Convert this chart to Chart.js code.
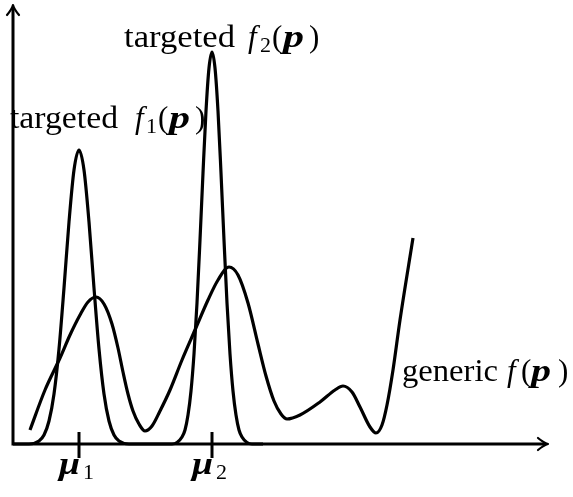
<!DOCTYPE html>
<html>
<head>
<meta charset="utf-8">
<script src="https://cdn.jsdelivr.net/npm/chart.js@4/dist/chart.umd.min.js"></script>
<style>
    body { margin: 0; background: #fff; }
    #wrap { width: 573px; height: 497px; position: relative; }
</style>
</head>
<body>
<div id="wrap"><canvas id="chart"></canvas></div>
<script>
// Values: parameter p along x, function value along y
const f1P   = [0, 16, 26, 31, 36, 41, 46, 51, 56, 61, 66, 71, 76, 81, 86, 91, 96, 101, 106, 116, 140];
const f1Val = [0, 0, 3, 9, 23, 50, 95, 156, 222, 274, 294, 274, 222, 156, 95, 50, 23, 9, 3, 0, 0];

const f2P   = [140, 159, 164, 169, 172, 175, 178, 181, 184, 187, 190, 193, 196, 199, 202, 205, 208, 211, 214, 217, 220, 223, 226, 229, 234, 239, 250];
const f2Val = [0, 0, 1.5, 7, 14, 29, 53, 90, 141, 204, 271, 333, 376, 392, 376, 333, 271, 204, 141, 90, 53, 29, 14, 7, 1.5, 0, 0];

const genP   = [17, 32, 47, 57, 67, 75, 83, 91, 99, 105, 110, 115, 120, 126, 132, 139, 147, 157, 169, 182,
                195, 205, 216, 225, 235, 245, 253, 261, 268, 274, 287, 307, 322, 330, 339, 347, 357, 363, 369, 374,
                380, 387, 400];
const genVal = [14, 54, 86, 109, 129, 142, 147, 140, 120, 96, 72, 50, 33, 20, 13, 18, 33, 54, 84, 114,
                144, 164, 177, 169, 141, 100, 68, 43, 30, 25, 29, 42, 54, 58, 52, 37, 17, 11, 19, 39,
                74, 124, 206];

// x ticks (means of the targeted functions)
const tickP   = [66, 199];
const tickSym = ['μ', 'μ'];
const tickSub = ['1', '2'];

const X_MAX = 535;
const Y_MAX = 439;

const toPoints = (xs, ys) => xs.map((x, i) => ({ x: x, y: ys[i] }));

const R  = '31px "Liberation Serif"';
const I  = 'italic 31px "Liberation Serif"';
const BI = 'bold italic 31px "Liberation Serif"';
const S  = '22px "Liberation Serif"';

// text labels: anchor in data units, parts offset in px from the anchor
const labels = [
    { p: -3, v: 316, parts: [
        { t: 'targeted', font: R, dx: 0, w: 108 },
        { t: 'f', font: I, dx: 125 },
        { t: '1', font: S, dx: 136, dy: 5 },
        { t: '(', font: R, dx: 148 },
        { t: 'p', font: BI, dx: 159, w: 21 },
        { t: ')', font: R, dx: 185 }
    ]},
    { p: 111, v: 397, parts: [
        { t: 'targeted', font: R, dx: 0, w: 111 },
        { t: 'f', font: I, dx: 124 },
        { t: '2', font: S, dx: 136, dy: 5 },
        { t: '(', font: R, dx: 148 },
        { t: 'p', font: BI, dx: 159, w: 21 },
        { t: ')', font: R, dx: 185 }
    ]},
    { p: 389, v: 63, parts: [
        { t: 'generic', font: R, dx: 0, w: 96 },
        { t: 'f', font: I, dx: 105 },
        { t: '(', font: R, dx: 119 },
        { t: 'p', font: BI, dx: 129, w: 20 },
        { t: ')', font: R, dx: 156 }
    ]}
];

function drawParts(ctx, x, y, parts) {
    parts.forEach(part => {
        ctx.save();
        ctx.font = part.font;
        ctx.translate(x + part.dx, y + (part.dy || 0));
        if (part.w) {
            const natural = ctx.measureText(part.t).width;
            ctx.scale(part.w / natural, 1);
        }
        ctx.fillText(part.t, 0, 0);
        ctx.restore();
    });
}

function arrow(ctx, tx, ty, dirX, dirY) {
    // curved barbs like the TikZ "to" tip
    const nx = -dirY, ny = dirX;
    const back = 10, side = 6;
    ctx.beginPath();
    ctx.moveTo(tx - dirX * back + nx * side, ty - dirY * back + ny * side);
    ctx.quadraticCurveTo(tx - dirX * 4 + nx * 1, ty - dirY * 4 + ny * 1, tx, ty);
    ctx.quadraticCurveTo(tx - dirX * 4 - nx * 1, ty - dirY * 4 - ny * 1,
                         tx - dirX * back - nx * side, ty - dirY * back - ny * side);
    ctx.stroke();
}

const figurePlugin = {
    id: 'figure',
    afterDraw(chart) {
        const ctx = chart.ctx;
        const xs = chart.scales.x;
        const ys = chart.scales.y;
        const x0 = xs.getPixelForValue(0);
        const y0 = ys.getPixelForValue(0);
        const xEnd = xs.getPixelForValue(X_MAX);
        const yEnd = ys.getPixelForValue(Y_MAX);

        ctx.save();
        ctx.fillStyle = '#000';
        ctx.textBaseline = 'alphabetic';
        labels.forEach(l => drawParts(ctx, xs.getPixelForValue(l.p), ys.getPixelForValue(l.v), l.parts));

        ctx.strokeStyle = '#000';
        ctx.lineWidth = 3;
        ctx.lineCap = 'butt';
        ctx.beginPath();
        ctx.moveTo(x0 - 1.5, y0);
        ctx.lineTo(xEnd - 2, y0);
        ctx.moveTo(x0, y0 + 1.5);
        ctx.lineTo(x0, yEnd + 2);
        ctx.stroke();

        ctx.lineWidth = 2.2;
        ctx.lineCap = 'round';
        ctx.lineJoin = 'round';
        arrow(ctx, xEnd, y0, 1, 0);
        arrow(ctx, x0, yEnd, 0, -1);

        // tick marks with labels
        ctx.lineWidth = 3;
        ctx.lineCap = 'butt';
        tickP.forEach((p, i) => {
            const px = xs.getPixelForValue(p);
            ctx.beginPath();
            ctx.moveTo(px, y0 - 12);
            ctx.lineTo(px, y0 + 14);
            ctx.stroke();
            drawParts(ctx, px, y0 + 30, [
                { t: tickSym[i], font: BI, dx: -20, w: 21 },
                { t: tickSub[i], font: S, dx: 4, dy: 5 }
            ]);
        });
        ctx.restore();
    }
};

const lineStyle = {
    borderColor: '#000',
    borderWidth: 3.2,
    pointRadius: 0,
    fill: false,
    cubicInterpolationMode: 'monotone',
    clip: false
};

new Chart(document.getElementById('chart'), {
    type: 'line',
    data: {
        datasets: [
            { label: 'targeted f1(p)', data: toPoints(f1P, f1Val), ...lineStyle },
            { label: 'targeted f2(p)', data: toPoints(f2P, f2Val), ...lineStyle },
            { label: 'generic f(p)', data: toPoints(genP, genVal), ...lineStyle }
        ]
    },
    options: {
        responsive: true,
        maintainAspectRatio: false,
        animation: false,
        layout: { padding: { left: 13, right: 25, top: 5, bottom: 53 } },
        plugins: {
            legend: { display: false },
            tooltip: { enabled: false }
        },
        scales: {
            x: { type: 'linear', min: 0, max: X_MAX, display: false },
            y: { type: 'linear', min: 0, max: Y_MAX, display: false }
        }
    },
    plugins: [figurePlugin]
});
</script>
</body>
</html>
